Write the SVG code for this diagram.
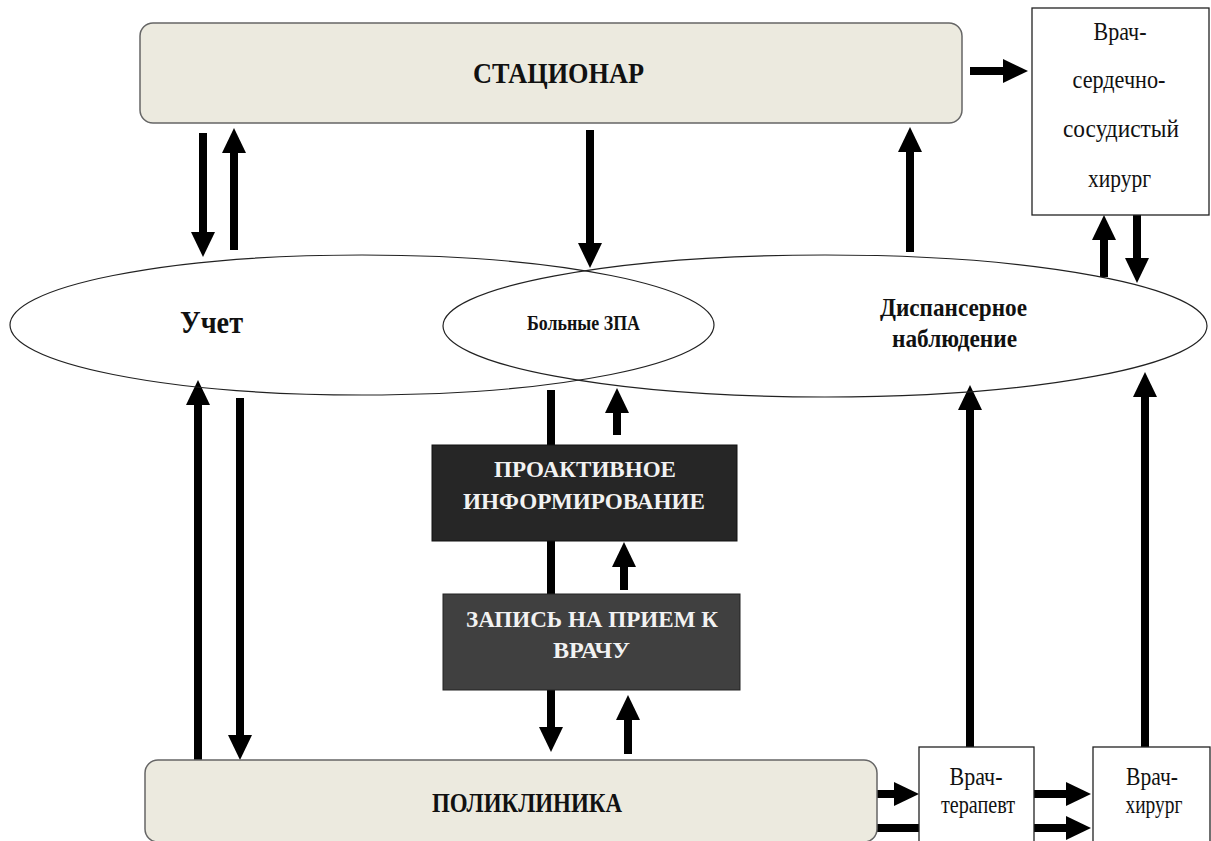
<svg xmlns="http://www.w3.org/2000/svg" width="1211" height="841" viewBox="0 0 1211 841">
<style>
.box{fill:#ECEADF;stroke:#666;stroke-width:1.5}
.wbox{fill:#fff;stroke:#222;stroke-width:1.3}
.ell{fill:none;stroke:#222;stroke-width:1.2}
.con{stroke:#000;stroke-width:8;fill:none;marker-end:url(#ah)}
.tb{font-family:"Liberation Serif","Times New Roman",serif;font-weight:bold;text-anchor:middle;fill:#111}
.tr{font-family:"Liberation Serif","Times New Roman",serif;text-anchor:middle;fill:#111;font-size:25px}
.tw{font-family:"Liberation Serif","Times New Roman",serif;font-weight:bold;text-anchor:middle;fill:#f2f2f2;font-size:23px}
</style>
<defs>
<marker id="ah" markerUnits="userSpaceOnUse" markerWidth="26" markerHeight="24" viewBox="0 0 26 24" refX="1" refY="12" orient="auto">
<path d="M0,0 L25,12 L0,24 z" fill="#000"/>
</marker>
</defs>
<rect width="1211" height="841" fill="#fff"/>
<g id="connectors">
<path class="con" d="M970,71 H1004"/>
<path class="con" d="M203,133 V233"/>
<path class="con" d="M234,250 V152"/>
<path class="con" d="M590,130 V244"/>
<path class="con" d="M910,252 V151"/>
<path class="con" d="M1104,277 V239"/>
<path class="con" d="M1137,215 V259"/>
<path class="con" d="M198,760 V404"/>
<path class="con" d="M240,398 V736"/>
<path class="con" d="M551,390 V728"/>
<path class="con" d="M617,435 V412"/>
<path class="con" d="M624,590 V566"/>
<path class="con" d="M628,754 V719"/>
<path class="con" d="M970,747 V409"/>
<path class="con" d="M1145,747 V396"/>
<path class="con" d="M877,794 H895"/>
<path class="con" d="M877,828 H1067"/>
<path class="con" d="M1034,794 H1067"/>
</g>
<g id="stacionar">
<rect class="box" x="140" y="23" width="822" height="100" rx="13"/>
<text class="tb" x="558.5" y="83" font-size="30" textLength="171" lengthAdjust="spacingAndGlyphs">СТАЦИОНАР</text>
</g>
<g id="vrach-ss-hirurg">
<rect class="wbox" x="1032" y="8" width="177" height="207"/>
<text class="tr" x="1120" y="40" textLength="53" lengthAdjust="spacingAndGlyphs">Врач-</text>
<text class="tr" x="1119" y="88" textLength="93" lengthAdjust="spacingAndGlyphs">сердечно-</text>
<text class="tr" x="1121" y="137" textLength="116" lengthAdjust="spacingAndGlyphs">сосудистый</text>
<text class="tr" x="1119.5" y="187" textLength="63" lengthAdjust="spacingAndGlyphs">хирург</text>
</g>
<g id="uchet">
<ellipse class="ell" cx="362" cy="325" rx="352" ry="70"/>
<text class="tb" x="211.5" y="333" font-size="32" textLength="63" lengthAdjust="spacingAndGlyphs">Учет</text>
</g>
<g id="dispanser">
<ellipse class="ell" cx="825" cy="326" rx="382" ry="71"/>
<text class="tb" x="953.5" y="316" font-size="26" textLength="147" lengthAdjust="spacingAndGlyphs">Диспансерное</text>
<text class="tb" x="954.5" y="347" font-size="26" textLength="125" lengthAdjust="spacingAndGlyphs">наблюдение</text>
</g>
<g id="bolnye">
<text class="tb" x="583.5" y="330" font-size="20" textLength="113" lengthAdjust="spacingAndGlyphs">Больные ЗПА</text>
</g>
<g id="proaktiv">
<rect x="432" y="445" width="305" height="96" fill="#262626" stroke="#111" stroke-width="1"/>
<text class="tw" x="585" y="477" textLength="182" lengthAdjust="spacingAndGlyphs">ПРОАКТИВНОЕ</text>
<text class="tw" x="584" y="509" textLength="242" lengthAdjust="spacingAndGlyphs">ИНФОРМИРОВАНИЕ</text>
</g>
<g id="zapis">
<rect x="443" y="594" width="297" height="96" fill="#404040" stroke="#222" stroke-width="1"/>
<text class="tw" x="592" y="627" textLength="252" lengthAdjust="spacingAndGlyphs">ЗАПИСЬ НА ПРИЕМ К</text>
<text class="tw" x="591.5" y="658" textLength="77" lengthAdjust="spacingAndGlyphs">ВРАЧУ</text>
</g>
<g id="poliklinika">
<rect class="box" x="145" y="760" width="732" height="82" rx="13"/>
<text class="tb" x="527" y="812" font-size="27" textLength="190" lengthAdjust="spacingAndGlyphs">ПОЛИКЛИНИКА</text>
</g>
<g id="terapevt">
<rect class="wbox" x="919" y="747" width="115" height="120"/>
<text class="tr" x="976" y="785" textLength="53" lengthAdjust="spacingAndGlyphs">Врач-</text>
<text class="tr" x="978" y="813" textLength="74" lengthAdjust="spacingAndGlyphs">терапевт</text>
</g>
<g id="hirurg">
<rect class="wbox" x="1093" y="747" width="117" height="120"/>
<text class="tr" x="1152" y="785" textLength="52" lengthAdjust="spacingAndGlyphs">Врач-</text>
<text class="tr" x="1154" y="813" textLength="57" lengthAdjust="spacingAndGlyphs">хирург</text>
</g>
</svg>
